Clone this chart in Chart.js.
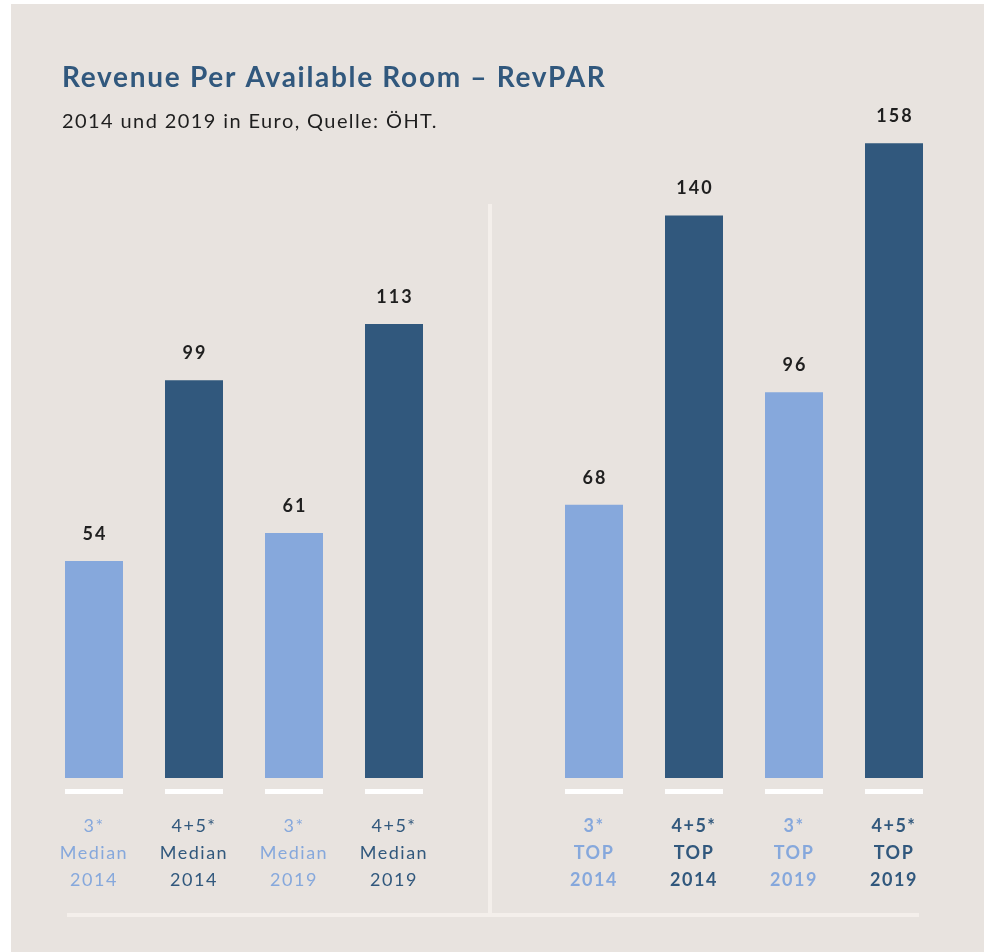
<!DOCTYPE html>
<html>
<head>
<meta charset="utf-8">
<script src="https://cdn.jsdelivr.net/npm/chart.js@4"></script>
<style>
  html, body { margin: 0; padding: 0; background: #ffffff; }
  #wrap { position: relative; width: 984px; height: 952px; }
</style>
</head>
<body>
<div id="wrap"><canvas id="revparChart" width="984" height="952"></canvas></div>
<script>
// Data (empty slot in the middle separates the groups)
const starLabels = ['3*', '4+5*', '3*', '4+5*', '', '3*', '4+5*', '3*', '4+5*'];
const groupLabels = ['Median', 'Median', 'Median', 'Median', '', 'TOP', 'TOP', 'TOP', 'TOP'];
const yearLabels = ['2014', '2014', '2019', '2019', '', '2014', '2014', '2019', '2019'];
const revparValues = [54, 99, 61, 113, null, 68, 140, 96, 158];
const isThreeStar = [true, false, true, false, false, true, false, true, false];

const LIGHT = '#86a8dc';
const DARK = '#31587d';
const BG = '#e8e3df';
const FONT = 'Lato, "Noto Sans", sans-serif';

const labels = starLabels.map((s, i) => s ? [s, groupLabels[i], yearLabels[i]] : '');

// Background, title, dividers and value labels
const decorPlugin = {
    id: 'decor',
    beforeDraw(chart) {
        const ctx = chart.ctx;
        ctx.save();
        ctx.fillStyle = '#ffffff';
        ctx.fillRect(0, 0, chart.width, chart.height);
        ctx.fillStyle = BG;
        ctx.fillRect(11, 4, chart.width - 11, chart.height - 4);

        ctx.fillStyle = DARK;
        ctx.font = 'bold 28px ' + FONT;
        ctx.letterSpacing = '1.7px';
        ctx.textBaseline = 'alphabetic';
        ctx.fillText('Revenue Per Available Room – RevPAR', 62, 87);

        ctx.fillStyle = '#1e1e1e';
        ctx.font = '20px ' + FONT;
        ctx.letterSpacing = '1.4px';
        ctx.fillText('2014 und 2019 in Euro, Quelle: ÖHT.', 62, 128);
        ctx.restore();
        ctx.letterSpacing = '1.5px';
    },
    afterDatasetsDraw(chart) {
        const ctx = chart.ctx;
        const meta = chart.getDatasetMeta(0);
        const base = chart.scales.y.getPixelForValue(0);
        ctx.save();
        ctx.letterSpacing = '0px';
        // vertical divider and bottom line
        const xs = chart.scales.x;
        const divX = (xs.getPixelForValue(3) + xs.getPixelForValue(5)) / 2 - 4;
        ctx.fillStyle = '#f4efeb';
        ctx.fillRect(divX - 2, 204, 4, 712);
        ctx.fillRect(67, 913, 852, 4);

        meta.data.forEach((bar, i) => {
            const v = revparValues[i];
            if (v === null) return;
            // white stub under each bar
            ctx.fillStyle = '#ffffff';
            ctx.fillRect(bar.x - bar.width / 2, base + 11, bar.width, 5);
            // value label
            ctx.fillStyle = '#1f1f1f';
            ctx.font = 'bold 18px ' + FONT;
            ctx.letterSpacing = '2px';
            ctx.textAlign = 'center';
            ctx.textBaseline = 'middle';
            ctx.fillText(String(v), bar.x + 1, bar.y - 27);
            ctx.letterSpacing = '0px';
        });
        ctx.restore();
    }
};

new Chart(document.getElementById('revparChart'), {
    type: 'bar',
    data: {
        labels: labels,
        datasets: [{
            data: revparValues,
            backgroundColor: revparValues.map((v, i) => isThreeStar[i] ? LIGHT : DARK),
            barPercentage: 0.58,
            categoryPercentage: 1.0,
            borderWidth: 0
        }]
    },
    options: {
        responsive: false,
        animation: false,
        layout: {
            padding: { top: 95, left: 44, right: 40, bottom: 44 }
        },
        plugins: {
            legend: { display: false },
            tooltip: { enabled: false }
        },
        scales: {
            x: {
                grid: { display: false, drawTicks: false },
                border: { display: false },
                afterFit: function(scale) { scale.height = 130; },
                ticks: {
                    padding: 35,
                    maxRotation: 0,
                    autoSkip: false,
                    color: (c) => isThreeStar[c.index] ? LIGHT : DARK,
                    font: (c) => ({
                        family: FONT,
                        size: 18,
                        weight: c.index > 4 ? 'bold' : 'normal',
                        lineHeight: '27px'
                    })
                }
            },
            y: {
                display: false,
                min: 0,
                max: 170
            }
        }
    },
    plugins: [decorPlugin]
});
</script>
</body>
</html>
